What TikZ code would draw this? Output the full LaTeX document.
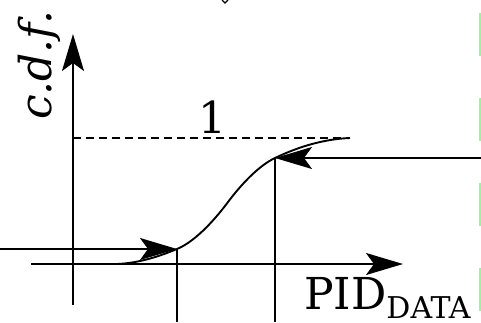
\documentclass[tikz,border=0pt]{standalone}
\usepackage{fontspec}
\setmainfont{DejaVu Serif}
\usetikzlibrary{arrows.meta}

\begin{document}
\begin{tikzpicture}[x=1pt,y=-1pt,>={Stealth[length=37pt,width=22pt,inset=8pt]},
axis line/.style={->,line width=1.9pt},
guide line/.style={line width=1.9pt},
level line/.style={line width=1.5pt,dash pattern=on 8pt off 5pt},
big label/.style={inner sep=0pt,font=\fontsize{44}{48}\selectfont},
edge mark/.style={line width=1.5pt,draw=green!45!white,dash pattern=on 43pt off 42pt}]
\useasboundingbox (0,0) rectangle (481,322);
% axes
\coordinate (ybot) at (73,305);
\coordinate (ytop) at (73,34);
\coordinate (xleft) at (31,264);
\coordinate (xright) at (403,264);
\draw[axis line] (ybot) -- (ytop);
\draw[axis line] (xleft) -- (xright);
% level 1
\coordinate (one left) at (73,138);
\coordinate (one right) at (350,138);
\draw[level line] (one left) -- (one right);
% c.d.f. curve
\coordinate (lo) at (177,249);
\coordinate (mid) at (228,202);
\coordinate (hi) at (275,158);
\draw[guide line] (117,264) .. controls (140,263) and (160,256) .. (lo)
  .. controls (197,240.8) and (218,215.5) .. (mid)
  .. controls (240,186) and (258,166) .. (hi)
  .. controls (300,146) and (325,139) .. (one right);
\draw[guide line] (lo) -- (lo |- 0,322);
\draw[guide line] (hi) -- (hi |- 0,322);
% input and output arrows
\coordinate (in) at (0,249);
\coordinate (out) at (481,158);
\draw[axis line] (in) -- (lo);
\draw[axis line] (out) -- (hi);
% labels
\node[big label,anchor=base west] (one) at (198,133) {1};
\node[big label,rotate=90,anchor=base west] (ylab) at (51,120) {\itshape c.d.f.};
\node[big label,anchor=base west] (xlab) at (304,309) {PID\raisebox{-9pt}{\fontsize{30}{31}\selectfont DATA}};
% cut pieces at the borders
\draw[line width=1.4pt] (222,0) -- (225,3) -- (228,0);
\draw[edge mark] (480,13) -- (480,322);
\end{tikzpicture}
\end{document}
